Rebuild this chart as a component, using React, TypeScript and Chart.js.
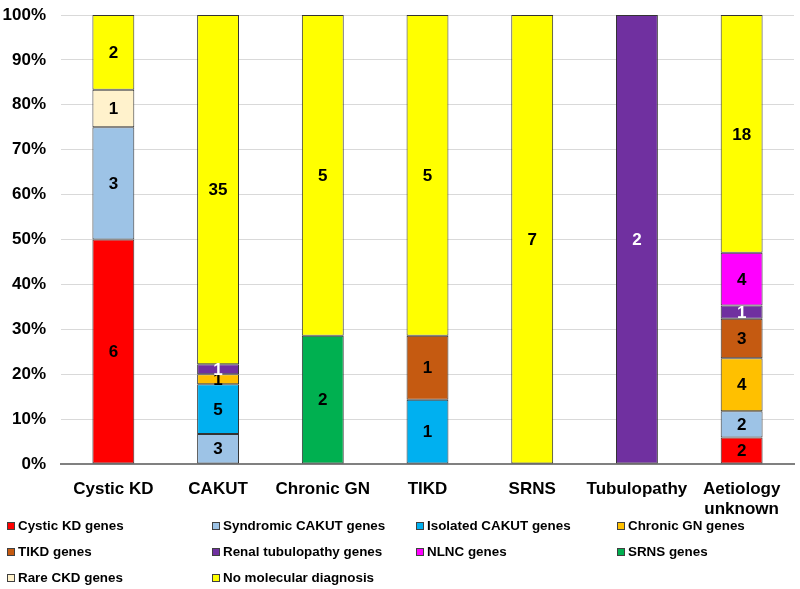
import React, { useEffect, useRef } from "react";
import { Chart, registerables } from "chart.js";

Chart.register(...registerables);

const categories: (string | string[])[] = [
  "Cystic KD",
  "CAKUT",
  "Chronic GN",
  "TIKD",
  "SRNS",
  "Tubulopathy",
  ["Aetiology", "unknown"],
];

const seriesNames = [
  "Cystic KD genes",
  "Syndromic CAKUT genes",
  "Isolated CAKUT genes",
  "Chronic GN genes",
  "TIKD genes",
  "Renal tubulopathy genes",
  "NLNC genes",
  "SRNS genes",
  "Rare CKD genes",
  "No molecular diagnosis",
];

const cysticKD = [6, 0, 0, 0, 0, 0, 2];
const syndromicCAKUT = [3, 3, 0, 0, 0, 0, 2];
const isolatedCAKUT = [0, 5, 0, 1, 0, 0, 0];
const chronicGN = [0, 1, 0, 0, 0, 0, 4];
const tikd = [0, 0, 0, 1, 0, 0, 3];
const renalTubulopathy = [0, 1, 0, 0, 0, 2, 1];
const nlnc = [0, 0, 0, 0, 0, 0, 4];
const srns = [0, 0, 2, 0, 0, 0, 0];
const rareCKD = [1, 0, 0, 0, 0, 0, 0];
const noMolecular = [2, 35, 5, 5, 7, 0, 18];

const seriesCounts = [
  cysticKD,
  syndromicCAKUT,
  isolatedCAKUT,
  chronicGN,
  tikd,
  renalTubulopathy,
  nlnc,
  srns,
  rareCKD,
  noMolecular,
];

const seriesColors = [
  "#FF0000",
  "#9DC3E6",
  "#00B0F0",
  "#FFC000",
  "#C55A11",
  "#7030A0",
  "#FF00FF",
  "#00B050",
  "#FFF2CC",
  "#FFFF00",
];

const labelColors = [
  "#000000",
  "#000000",
  "#000000",
  "#000000",
  "#000000",
  "#FFFFFF",
  "#000000",
  "#000000",
  "#000000",
  "#000000",
];

const yTicks = [0, 10, 20, 30, 40, 50, 60, 70, 80, 90, 100];

const FONT = "Arial, 'Liberation Sans', sans-serif";

export default function App() {
  const ref = useRef<HTMLCanvasElement | null>(null);

  useEffect(() => {
    if (!ref.current) return;
    const totals = categories.map((_, i) =>
      seriesCounts.reduce((s, arr) => s + arr[i], 0)
    );
    const datasets = seriesNames.map((name, k) => ({
      label: name,
      data: seriesCounts[k].map((v, i) => (v / totals[i]) * 100),
      backgroundColor: seriesColors[k],
      borderColor: "#333333",
      borderWidth: 1,
      borderSkipped: false as const,
      barPercentage: 0.8,
      categoryPercentage: 0.5,
    }));

    const labelPlugin = {
      id: "segLabels",
      afterDatasetsDraw(chart: any) {
        const ctx = chart.ctx;
        ctx.save();
        ctx.font = `bold 17px ${FONT}`;
        ctx.textAlign = "center";
        ctx.textBaseline = "middle";
        chart.data.datasets.forEach((ds: any, k: number) => {
          const meta = chart.getDatasetMeta(k);
          meta.data.forEach((el: any, i: number) => {
            const count = seriesCounts[k][i];
            if (!count) return;
            const y = (el.y + el.base) / 2;
            ctx.fillStyle = labelColors[k];
            ctx.fillText(String(count), el.x, y + 1);
          });
        });
        ctx.restore();
      },
    };

    const legendPlugin = {
      id: "gridLegend",
      afterDraw(chart: any) {
        const ctx = chart.ctx;
        const colX = [7, 212, 416, 617];
        const rowY = [526, 552, 578];
        ctx.save();
        ctx.font = `bold 13.4px ${FONT}`;
        ctx.textBaseline = "middle";
        ctx.textAlign = "left";
        seriesNames.forEach((name, k) => {
          const c = k % 4;
          const r = Math.floor(k / 4);
          const x = colX[c];
          const y = rowY[r];
          ctx.fillStyle = seriesColors[k];
          ctx.fillRect(x, y - 4, 8, 8);
          ctx.strokeStyle = "#404040";
          ctx.lineWidth = 1;
          ctx.strokeRect(x + 0.5, y - 3.5, 7, 7);
          ctx.fillStyle = "#000000";
          ctx.fillText(name, x + 11, y);
        });
        ctx.restore();
      },
    };

    const chart = new Chart(ref.current, {
      type: "bar",
      data: { labels: categories as any, datasets },
      options: {
        animation: false,
        responsive: false,
        maintainAspectRatio: false,
        layout: { padding: { top: 0, right: 6, left: 0, bottom: 73 } },
        plugins: {
          legend: { display: false },
          tooltip: { enabled: false },
        },
        scales: {
          x: {
            stacked: true,
            grid: { display: false, drawTicks: false },
            border: { display: true, color: "#808080", width: 2 },
            afterFit(axis: any) {
              axis.height = 52;
              axis.paddingLeft = 0;
              axis.paddingRight = 0;
            },
            ticks: {
              color: "#000000",
              font: { family: FONT, size: 17, weight: "bold" },
              padding: 15,
              maxRotation: 0,
              autoSkip: false,
            },
          },
          y: {
            stacked: true,
            min: 0,
            max: 100,
            afterBuildTicks(axis: any) {
              axis.ticks = yTicks.map((v) => ({ value: v }));
            },
            afterFit(axis: any) {
              axis.width = 61;
              axis.paddingTop = 15;
              axis.paddingBottom = 0;
            },
            grid: { color: "#D9D9D9", lineWidth: 1, drawTicks: false },
            border: { display: false },
            ticks: {
              color: "#000000",
              font: { family: FONT, size: 17, weight: "bold" },
              padding: 15,
              callback: (v: any) => `${v}%`,
            },
          },
        },
      },
      plugins: [labelPlugin, legendPlugin],
    });
    return () => chart.destroy();
  }, []);

  return (
    <div style={{ position: "fixed", left: 0, top: 0, width: 800, height: 589, background: "#fff" }}>
      <canvas ref={ref} width={800} height={589} style={{ width: 800, height: 589 }} />
    </div>
  );
}
